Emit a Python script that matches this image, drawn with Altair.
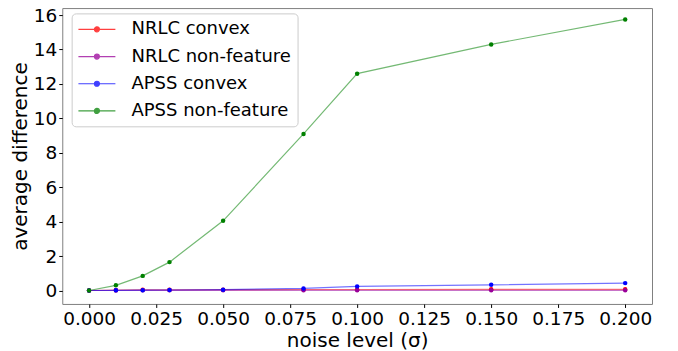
import altair as alt
import pandas as pd

noise = [0.0, 0.01, 0.02, 0.03, 0.05, 0.08, 0.1, 0.15, 0.2]
series_names = ["NRLC convex", "NRLC non-feature", "APSS convex", "APSS non-feature"]
nrlc_convex = [0.0, 0.03, 0.04, 0.04, 0.05, 0.06, 0.06, 0.07, 0.07]
nrlc_nonfeature = [0.0, 0.0, 0.01, 0.01, 0.01, 0.01, 0.01, 0.01, 0.01]
apss_convex = [0.0, 0.01, 0.02, 0.03, 0.05, 0.12, 0.24, 0.33, 0.43]
apss_nonfeature = [0.0, 0.3, 0.85, 1.65, 4.05, 9.1, 12.6, 14.3, 15.75]
colors = ["#ff0000", "#990099", "#0000ff", "#008000"]
x_ticks = [0.0, 0.025, 0.05, 0.075, 0.1, 0.125, 0.15, 0.175, 0.2]
y_ticks = [0, 2, 4, 6, 8, 10, 12, 14, 16]

rows = []
for name, vals in zip(series_names, [nrlc_convex, nrlc_nonfeature, apss_convex, apss_nonfeature]):
    for x, y in zip(noise, vals):
        rows.append({"noise": x, "diff": y, "series": name})
df = pd.DataFrame(rows)

font = "DejaVu Sans"
xenc = alt.X("noise:Q", scale=alt.Scale(domain=[-0.01, 0.21], nice=False, zero=False),
             axis=alt.Axis(values=x_ticks, format=".3f", title="noise level (σ)",
                           labelPadding=2, titlePadding=3))
yenc = alt.Y("diff:Q", scale=alt.Scale(domain=[-0.78, 16.41], nice=False, zero=False),
             axis=alt.Axis(values=y_ticks, format="d", title="average difference",
                           labelPadding=2, titlePadding=3))
cscale = alt.Scale(domain=series_names, range=colors)

# legend symbol: line with a dot in its middle (path units shifted right)
sym = "M -1 0 L 3 0 M 1.27 0 A 0.27 0.27 0 1 1 0.73 0 A 0.27 0.27 0 1 1 1.27 0 Z"

lines = alt.Chart(df).mark_line(strokeWidth=1.2, opacity=0.55).encode(
    x=xenc, y=yenc,
    color=alt.Color("series:N", scale=cscale, sort=series_names,
                    legend=alt.Legend(title=None, orient="none", legendX=9.4, legendY=5.3,
                                      symbolType=sym, symbolSize=342, symbolStrokeWidth=1.2,
                                      symbolOpacity=0.75,
                                      labelFontSize=18, labelFont=font, labelColor="black",
                                      labelLimit=0, padding=6, rowPadding=8.2, labelOffset=33.8,
                                      fillColor="rgba(255,255,255,0.8)", strokeColor="#cccccc",
                                      cornerRadius=4)),
    detail="series:N",
)
points = alt.Chart(df).mark_circle(size=20, opacity=1).encode(
    x=xenc, y=yenc,
    color=alt.Color("series:N", scale=cscale, legend=None),
)

chart = alt.layer(lines, points).properties(
    width=590, height=296,
    autosize=alt.AutoSizeParams(type="none"),
    padding={"left": 54.3, "top": 0, "right": 18, "bottom": 47},
).configure_view(stroke="#808080", strokeWidth=1).configure_axis(
    grid=False, domain=False, tickColor="black", tickSize=3.5, labelFontSize=18.5,
    titleFontSize=20, labelFont=font, titleFont=font, labelColor="black",
    titleColor="black", titleFontWeight="normal"
)

chart.save("out.html", embed_options={"renderer": "svg", "actions": False})
